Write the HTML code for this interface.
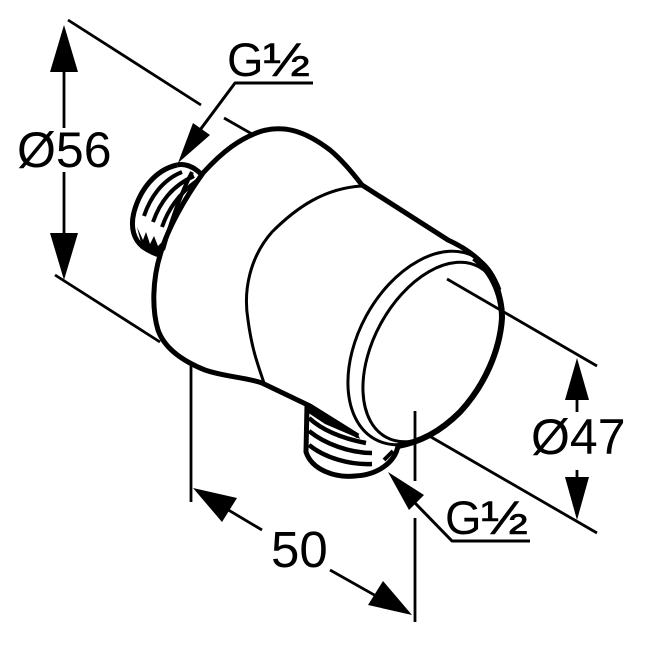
<!DOCTYPE html>
<html><head><meta charset="utf-8"><style>
html,body{margin:0;padding:0;background:#fff}
svg{display:block}
text{font-family:"Liberation Sans",sans-serif;fill:#000}
</style></head><body>
<svg width="647" height="647" viewBox="0 0 647 647" xmlns="http://www.w3.org/2000/svg">
<g fill="none" stroke="#000" stroke-linecap="butt" stroke-linejoin="round">
<!-- body -->
<path stroke-width="5" d="M203 173C222 152 240 138 262 131C285 125 305 131 330 150C342 160 352 172 362 185L448 240C470 250 490 265 499 290"/>
<path stroke-width="5" d="M203 173C185 198 168 228 161 252C152 280 152 310 158 330C165 350 185 362 205 370C225 377 245 377 262 383L310 406L358 436"/>
<path stroke-width="3" d="M362 186C325 188 297 207 272 232C250 257 243 290 248 320C252 350 258 365 264 383"/>
<!-- end ellipses -->
<ellipse cx="425" cy="348" rx="104" ry="67" transform="rotate(-61.4 425 348)" stroke-width="3"/>
<ellipse cx="432.5" cy="352" rx="97" ry="59" transform="rotate(-61.4 432.5 352)" stroke-width="3"/>
<path stroke-width="6" d="M474 258C490 270 502 292 502 318C500 350 485 385 460 412C440 432 420 442 398 446"/>
<!-- thread top -->
<path stroke-width="5" d="M177 165C185 163 194 167 201 174"/>
<path stroke-width="5" d="M177 165C155 170 140 190 134 212C130 228 134 240 143 247C150 252 156 254 162 256"/>
<path stroke-width="4" d="M144 216C150 198 162 180 182 172M153 222C160 202 172 186 194 176M162 227C168 210 178 194 198 180"/>
<path fill="#000" stroke="none" d="M137 227L142 247L161 257L164 240L158 246L154 236L150 244L146 232L143 240Z"/>
<path stroke-width="4" d="M192 172C180 195 170 225 163 250"/>
<!-- thread bottom -->
<path stroke-width="5" d="M307 405L306 452C312 470 335 478 355 476C378 475 395 462 398 446"/>
<path fill="#000" stroke="none" d="M307 403L358 434L360 439L325 424L307 412Z"/>
<path stroke-width="4.5" d="M309 418C322 430 340 438 366 443M309 431C325 444 350 453 372 453M309 445C325 458 350 465 372 464"/>
<path stroke-width="4" d="M384 460L393 451"/>
<!-- dimension lines -->
<path stroke-width="2.8" d="M68 20L201 105M224 118L252 134M55 275L160 342"/>
<path stroke-width="2.8" d="M447 279L597 366M431 437L597 533"/>
<path stroke-width="2.8" d="M191 365V502M415 411V481M415 518V622"/>
<path stroke-width="2.8" d="M64 65V128M64 172V240M577 395V412M577 470V485"/>
<path stroke-width="2.8" d="M220 505L262 530M330 570L385 601"/>
<!-- leaders -->
<path stroke-width="3" d="M313 83H235L200 130"/>
<path stroke-width="3" d="M530 541H452L415 503"/>
</g>
<!-- arrowheads -->
<path d="M178 163L193 123L210 135Z"/>
<path d="M388 472L424 495L409 510Z"/>
<path d="M64 25L50 72H78Z"/>
<path d="M64 280L50 233H78Z"/>
<path d="M577 358L565 400H589Z"/>
<path d="M577 520L565 477H589Z"/>
<path d="M193 488L237 498L222 522Z"/>
<path d="M412 615L368 605L383 581Z"/>
<!-- labels -->
<text x="17" y="167" font-size="50">Ø56</text>
<text x="531" y="454" font-size="50">Ø47</text>
<text x="271" y="567" font-size="51">50</text>
<text x="227" y="76" font-size="47">G</text>
<text x="263" y="76" font-size="47" textLength="47" lengthAdjust="spacingAndGlyphs" stroke="#000" stroke-width="0.6">½</text>
<text x="445" y="534" font-size="47">G</text>
<text x="481" y="534" font-size="47" textLength="47" lengthAdjust="spacingAndGlyphs" stroke="#000" stroke-width="0.6">½</text>
</svg>
</body></html>
